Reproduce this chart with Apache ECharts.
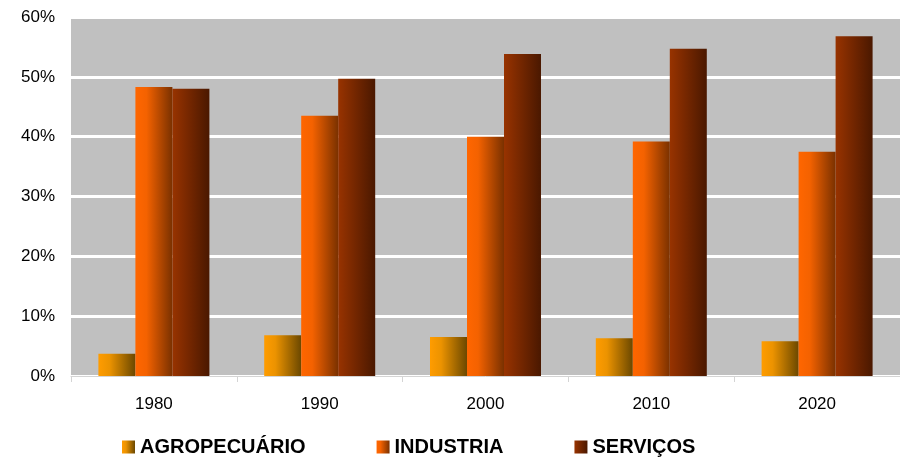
<!DOCTYPE html>
<html>
<head>
<meta charset="utf-8">
<script src="https://cdn.jsdelivr.net/npm/echarts@6/dist/echarts.min.js"></script>
<style>
  html, body { margin: 0; padding: 0; background: #ffffff; }
  #chart { width: 900px; height: 460px; }
</style>
</head>
<body>
<div id="chart"></div>
<script>
// Participação dos setores (fração do total), por década
var years = ['1980', '1990', '2000', '2010', '2020'];
var agropecuario = [0.037, 0.068, 0.065, 0.063, 0.058];
var industria = [0.483, 0.435, 0.400, 0.392, 0.375];
var servicos = [0.480, 0.497, 0.538, 0.547, 0.568];
var seriesNames = ['AGROPECUÁRIO', 'INDUSTRIA', 'SERVIÇOS'];

function hGrad(stops) {
  return {
    type: 'linear', x: 0, y: 0, x2: 1, y2: 0,
    colorStops: stops.map(function (s) { return { offset: s[0], color: s[1] }; })
  };
}

var fills = [
  hGrad([[0, '#FF9C00'], [0.3, '#EC9300'], [1, '#6B4800']]),
  hGrad([[0, '#FF6600'], [0.3, '#F46200'], [1, '#7A3100']]),
  hGrad([[0, '#983300'], [1, '#4A1800']])
];

var values = [agropecuario, industria, servicos];

var chart = echarts.init(document.getElementById('chart'), null, { renderer: 'canvas' });

chart.setOption({
  animation: false,
  backgroundColor: '#ffffff',
  textStyle: { fontFamily: 'Liberation Sans, Arial, sans-serif' },
  grid: {
    left: 71, right: 0, top: 17, bottom: 84,
    show: true, backgroundColor: '#C0C0C0', borderWidth: 0
  },
  legend: {
    left: 117, top: 432,
    icon: 'rect', itemWidth: 13, itemHeight: 13, itemGap: 71,
    textStyle: { fontSize: 20, fontWeight: 'bold', color: '#000000', fontFamily: 'Liberation Sans, Arial, sans-serif' },
    data: seriesNames
  },
  xAxis: {
    type: 'category',
    data: years,
    axisLine: { show: true, lineStyle: { color: '#D4D4D4', width: 1 } },
    axisTick: { show: true, length: 6, lineStyle: { color: '#D4D4D4' } },
    axisLabel: { fontSize: 17, color: '#000000', margin: 20 },
    splitLine: { show: false }
  },
  yAxis: {
    type: 'value',
    min: 0, max: 0.6, interval: 0.1,
    axisLine: { show: false },
    axisTick: { show: false },
    axisLabel: {
      fontSize: 17, color: '#000000', margin: 16,
      formatter: function (v) { return Math.round(v * 100) + '%'; }
    },
    splitLine: { show: true, lineStyle: { color: '#FFFFFF', width: 3 } }
  },
  series: seriesNames.map(function (name, i) {
    return {
      name: name,
      type: 'bar',
      data: values[i],
      barWidth: 37,
      barGap: '0%',
      itemStyle: { color: fills[i] }
    };
  })
});
</script>
</body>
</html>
